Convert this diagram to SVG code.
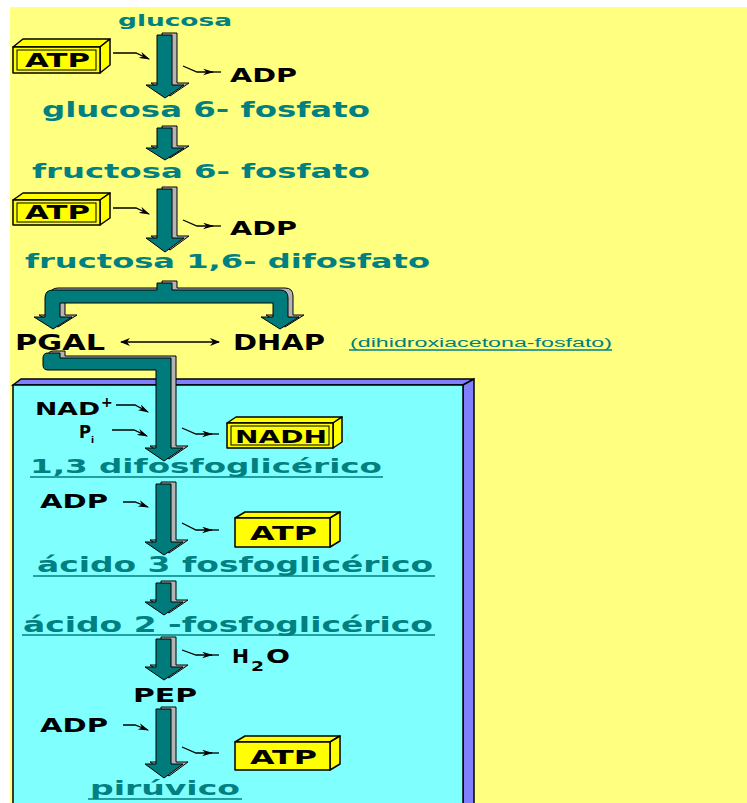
<svg xmlns="http://www.w3.org/2000/svg" xmlns:xlink="http://www.w3.org/1999/xlink" width="747" height="803" viewBox="0 0 747 803">
<style>
.t{font-family:"DejaVu Sans","Liberation Sans",Arial,sans-serif;font-weight:bold;fill:#008080}
.k{font-family:"DejaVu Sans","Liberation Sans",Arial,sans-serif;font-weight:bold;fill:#000}
.n{font-family:"Liberation Sans",Arial,sans-serif;fill:#008080}
.arrF{fill:#007b7b;stroke:#000;stroke-width:1}
.arrB{fill:#b4b4b4;stroke:#000;stroke-width:1}
.thin{fill:none;stroke:#000;stroke-width:1.3}
.box{fill:#ffff00;stroke:#000;stroke-width:1.5;stroke-linejoin:round}
.inner{fill:none;stroke:#000;stroke-width:1}
.ul{stroke:#008080;stroke-width:1.5}
</style>
<defs>
<marker id="ah" viewBox="0 0 10 6" refX="9" refY="3" markerWidth="11" markerHeight="7" markerUnits="userSpaceOnUse" orient="auto">
<path d="M0,0 L10,3 L0,6 L3,3 Z" fill="#000"/>
</marker>
<marker id="ahs" viewBox="0 0 10 8" refX="9" refY="4" markerWidth="10" markerHeight="8" markerUnits="userSpaceOnUse" orient="auto-start-reverse">
<path d="M0,0 L10,4 L0,8 L3,4 Z" fill="#000"/>
</marker>
<path id="a1" d="M157,35 H172 V85 H184 L165,98 L146,85 H157 Z"/>
<path id="a2" d="M157,128 H172 V148 H184 L165,160 L146,148 H157 Z"/>
<path id="a3" d="M157,189 H172 V238 H184 L165,252 L146,238 H157 Z"/>
<path id="split" d="M157,283 H172 V290 H280 Q288,290 288,298 V317 H299 L280,329 L261,317 H273 V303 H60 V317 H72 L53,329 L34,317 H45 V298 Q45,290 53,290 H157 Z"/>
<path id="bent" d="M48,353 H60 V358 H171 V448 H183 L164,461 L145,448 H156 V370 H48 Q43,370 43,365 V358 Q43,353 48,353 Z"/>
<path id="a4" d="M156,484 H171 V542 H183 L164,555 L145,542 H156 Z"/>
<path id="a5" d="M156,583 H171 V602 H183 L164,615 L145,602 H156 Z"/>
<path id="a6" d="M156,639 H171 V667 H183 L164,680 L145,667 H156 Z"/>
<path id="a7" d="M156,709 H171 V764 H183 L164,778 L145,764 H156 Z"/>
</defs>

<rect x="0" y="0" width="747" height="803" fill="#ffffff"/>
<rect x="10" y="7" width="737" height="796" fill="#ffff80"/>

<g id="panel">
<polygon points="13,385 21,379 474,379 463,385" fill="#8080ff" stroke="#000" stroke-width="1.5"/>
<polygon points="463,385 474,379 474,805 463,805" fill="#8080ff" stroke="#000" stroke-width="1.5"/>
<rect x="13" y="385" width="450" height="420" fill="#80ffff" stroke="#000" stroke-width="1.5"/>
</g>

<g id="connectors">
<use xlink:href="#a1" class="arrB" transform="translate(5,-2)"/><use xlink:href="#a1" class="arrF"/>
<use xlink:href="#a2" class="arrB" transform="translate(5,-2)"/><use xlink:href="#a2" class="arrF"/>
<use xlink:href="#a3" class="arrB" transform="translate(5,-2)"/><use xlink:href="#a3" class="arrF"/>
<use xlink:href="#split" class="arrB" transform="translate(5,-2)"/><use xlink:href="#split" class="arrF"/>
<use xlink:href="#bent" class="arrB" transform="translate(5,-2)"/><use xlink:href="#bent" class="arrF"/>
<use xlink:href="#a4" class="arrB" transform="translate(5,-2)"/><use xlink:href="#a4" class="arrF"/>
<use xlink:href="#a5" class="arrB" transform="translate(5,-2)"/><use xlink:href="#a5" class="arrF"/>
<use xlink:href="#a6" class="arrB" transform="translate(5,-2)"/><use xlink:href="#a6" class="arrF"/>
<use xlink:href="#a7" class="arrB" transform="translate(5,-2)"/><use xlink:href="#a7" class="arrF"/>

<path class="thin" d="M113,53 H136 L149,59" marker-end="url(#ah)"/>
<path class="thin" d="M183,66 L197,72 H213" marker-end="url(#ah)"/><path class="thin" d="M212,72 H221"/>
<path class="thin" d="M113,208 H136 L149,214" marker-end="url(#ah)"/>
<path class="thin" d="M183,220 L197,226 H213" marker-end="url(#ah)"/><path class="thin" d="M212,226 H221"/>
<path class="thin" d="M121,342 H219" marker-start="url(#ahs)" marker-end="url(#ahs)"/>
<path class="thin" d="M116,405 H135 L148,412" marker-end="url(#ah)"/>
<path class="thin" d="M112,430 H134 L147,436" marker-end="url(#ah)"/>
<path class="thin" d="M182,428 L196,434 H212" marker-end="url(#ah)"/><path class="thin" d="M211,434 H219"/>
<path class="thin" d="M123,502 H135 L148,507" marker-end="url(#ah)"/>
<path class="thin" d="M182,523 L196,530 H212" marker-end="url(#ah)"/><path class="thin" d="M211,530 H219"/>
<path class="thin" d="M182,650 L196,655 H212" marker-end="url(#ah)"/><path class="thin" d="M211,655 H219"/>
<path class="thin" d="M123,725 H135 L148,730" marker-end="url(#ah)"/>
<path class="thin" d="M182,747 L196,753 H212" marker-end="url(#ah)"/><path class="thin" d="M211,753 H219"/>
</g>

<g id="glucosa"><text class="t" x="118" y="26" font-size="16" textLength="114" lengthAdjust="spacingAndGlyphs">glucosa</text></g>

<g id="atp1">
<polygon class="box" points="13,47 23,39 110,39 100,47"/>
<polygon class="box" points="100,47 110,39 110,65 100,73"/>
<rect class="box" x="13" y="47" width="87" height="26"/>
<rect class="inner" x="17" y="50" width="79" height="20"/>
<text class="k" x="25" y="67" font-size="19" textLength="65" lengthAdjust="spacingAndGlyphs">ATP</text>
</g>
<g id="adp1"><text class="k" x="230" y="82" font-size="20" textLength="67" lengthAdjust="spacingAndGlyphs">ADP</text></g>
<g id="g6p"><text class="t" x="42" y="117" font-size="21" textLength="328" lengthAdjust="spacingAndGlyphs">glucosa 6- fosfato</text></g>
<g id="f6p"><text class="t" x="32" y="178" font-size="20" textLength="338" lengthAdjust="spacingAndGlyphs">fructosa 6- fosfato</text></g>

<g id="atp2">
<polygon class="box" points="13,200 23,193 110,193 100,200"/>
<polygon class="box" points="100,200 110,193 110,218 100,225"/>
<rect class="box" x="13" y="200" width="87" height="25"/>
<rect class="inner" x="17" y="203" width="79" height="19"/>
<text class="k" x="25" y="219" font-size="19" textLength="65" lengthAdjust="spacingAndGlyphs">ATP</text>
</g>
<g id="adp2"><text class="k" x="230" y="235" font-size="20" textLength="67" lengthAdjust="spacingAndGlyphs">ADP</text></g>
<g id="f16bp"><text class="t" x="25" y="268" font-size="20" textLength="405" lengthAdjust="spacingAndGlyphs">fructosa 1,6- difosfato</text></g>

<g id="pgal"><text class="k" x="15" y="350" font-size="21" textLength="90" lengthAdjust="spacingAndGlyphs">PGAL</text></g>
<g id="dhap"><text class="k" x="233" y="350" font-size="21" textLength="92" lengthAdjust="spacingAndGlyphs">DHAP</text></g>
<g id="dhap-note">
<text class="n" x="350" y="347" font-size="12" textLength="262" lengthAdjust="spacingAndGlyphs">(dihidroxiacetona-fosfato)</text>
<line class="ul" x1="349" y1="350" x2="612" y2="350" stroke-width="1"/>
</g>

<g id="nad"><text class="k" x="35" y="415" font-size="18" textLength="65" lengthAdjust="spacingAndGlyphs">NAD</text><text class="k" x="101" y="407" font-size="14">+</text></g>
<g id="pi"><text class="k" x="79" y="438" font-size="18" textLength="12" lengthAdjust="spacingAndGlyphs">P</text><text class="k" x="91" y="443" font-size="9">i</text></g>

<g id="nadh">
<polygon class="box" points="227,423 236,417 342,417 333,423"/>
<polygon class="box" points="333,423 342,417 342,442 333,448"/>
<rect class="box" x="227" y="423" width="106" height="25"/>
<rect class="inner" x="231" y="426" width="98" height="19"/>
<text class="k" x="235" y="443" font-size="18" textLength="92" lengthAdjust="spacingAndGlyphs">NADH</text>
</g>
<g id="bpg13"><text class="t" x="30" y="473" font-size="20" textLength="352" lengthAdjust="spacingAndGlyphs">1,3 difosfoglicérico</text><line class="ul" x1="30" y1="477" x2="383" y2="477"/></g>

<g id="adp3"><text class="k" x="40" y="508" font-size="19" textLength="68" lengthAdjust="spacingAndGlyphs">ADP</text></g>
<g id="atp3">
<polygon class="box" points="235,518 245,512 340,512 330,518"/>
<polygon class="box" points="330,518 340,512 340,541 330,547"/>
<rect class="box" x="235" y="518" width="95" height="29"/>
<text class="k" x="250" y="540" font-size="19" textLength="67" lengthAdjust="spacingAndGlyphs">ATP</text>
</g>
<g id="pg3"><text class="t" x="37" y="572" font-size="21" textLength="396" lengthAdjust="spacingAndGlyphs">ácido 3 fosfoglicérico</text><line class="ul" x1="33" y1="576" x2="435" y2="576"/></g>
<g id="pg2"><text class="t" x="23" y="632" font-size="21" textLength="410" lengthAdjust="spacingAndGlyphs">ácido 2 -fosfoglicérico</text><line class="ul" x1="22" y1="635" x2="435" y2="635"/></g>

<g id="h2o"><text class="k" x="232" y="663" font-size="19" textLength="17" lengthAdjust="spacingAndGlyphs">H</text><text class="k" x="251" y="671" font-size="14" textLength="13" lengthAdjust="spacingAndGlyphs">2</text><text class="k" x="266" y="663" font-size="19" textLength="24" lengthAdjust="spacingAndGlyphs">O</text></g>
<g id="pep"><text class="k" x="133" y="702" font-size="19" textLength="64" lengthAdjust="spacingAndGlyphs">PEP</text></g>

<g id="adp4"><text class="k" x="40" y="732" font-size="19" textLength="68" lengthAdjust="spacingAndGlyphs">ADP</text></g>
<g id="atp4">
<polygon class="box" points="235,742 245,736 340,736 330,742"/>
<polygon class="box" points="330,742 340,736 340,764 330,770"/>
<rect class="box" x="235" y="742" width="95" height="28"/>
<text class="k" x="250" y="764" font-size="19" textLength="67" lengthAdjust="spacingAndGlyphs">ATP</text>
</g>
<g id="piruvico"><text class="t" x="90" y="795" font-size="20" textLength="150" lengthAdjust="spacingAndGlyphs">pirúvico</text><line class="ul" x1="88" y1="799" x2="242" y2="799"/></g>
</svg>
